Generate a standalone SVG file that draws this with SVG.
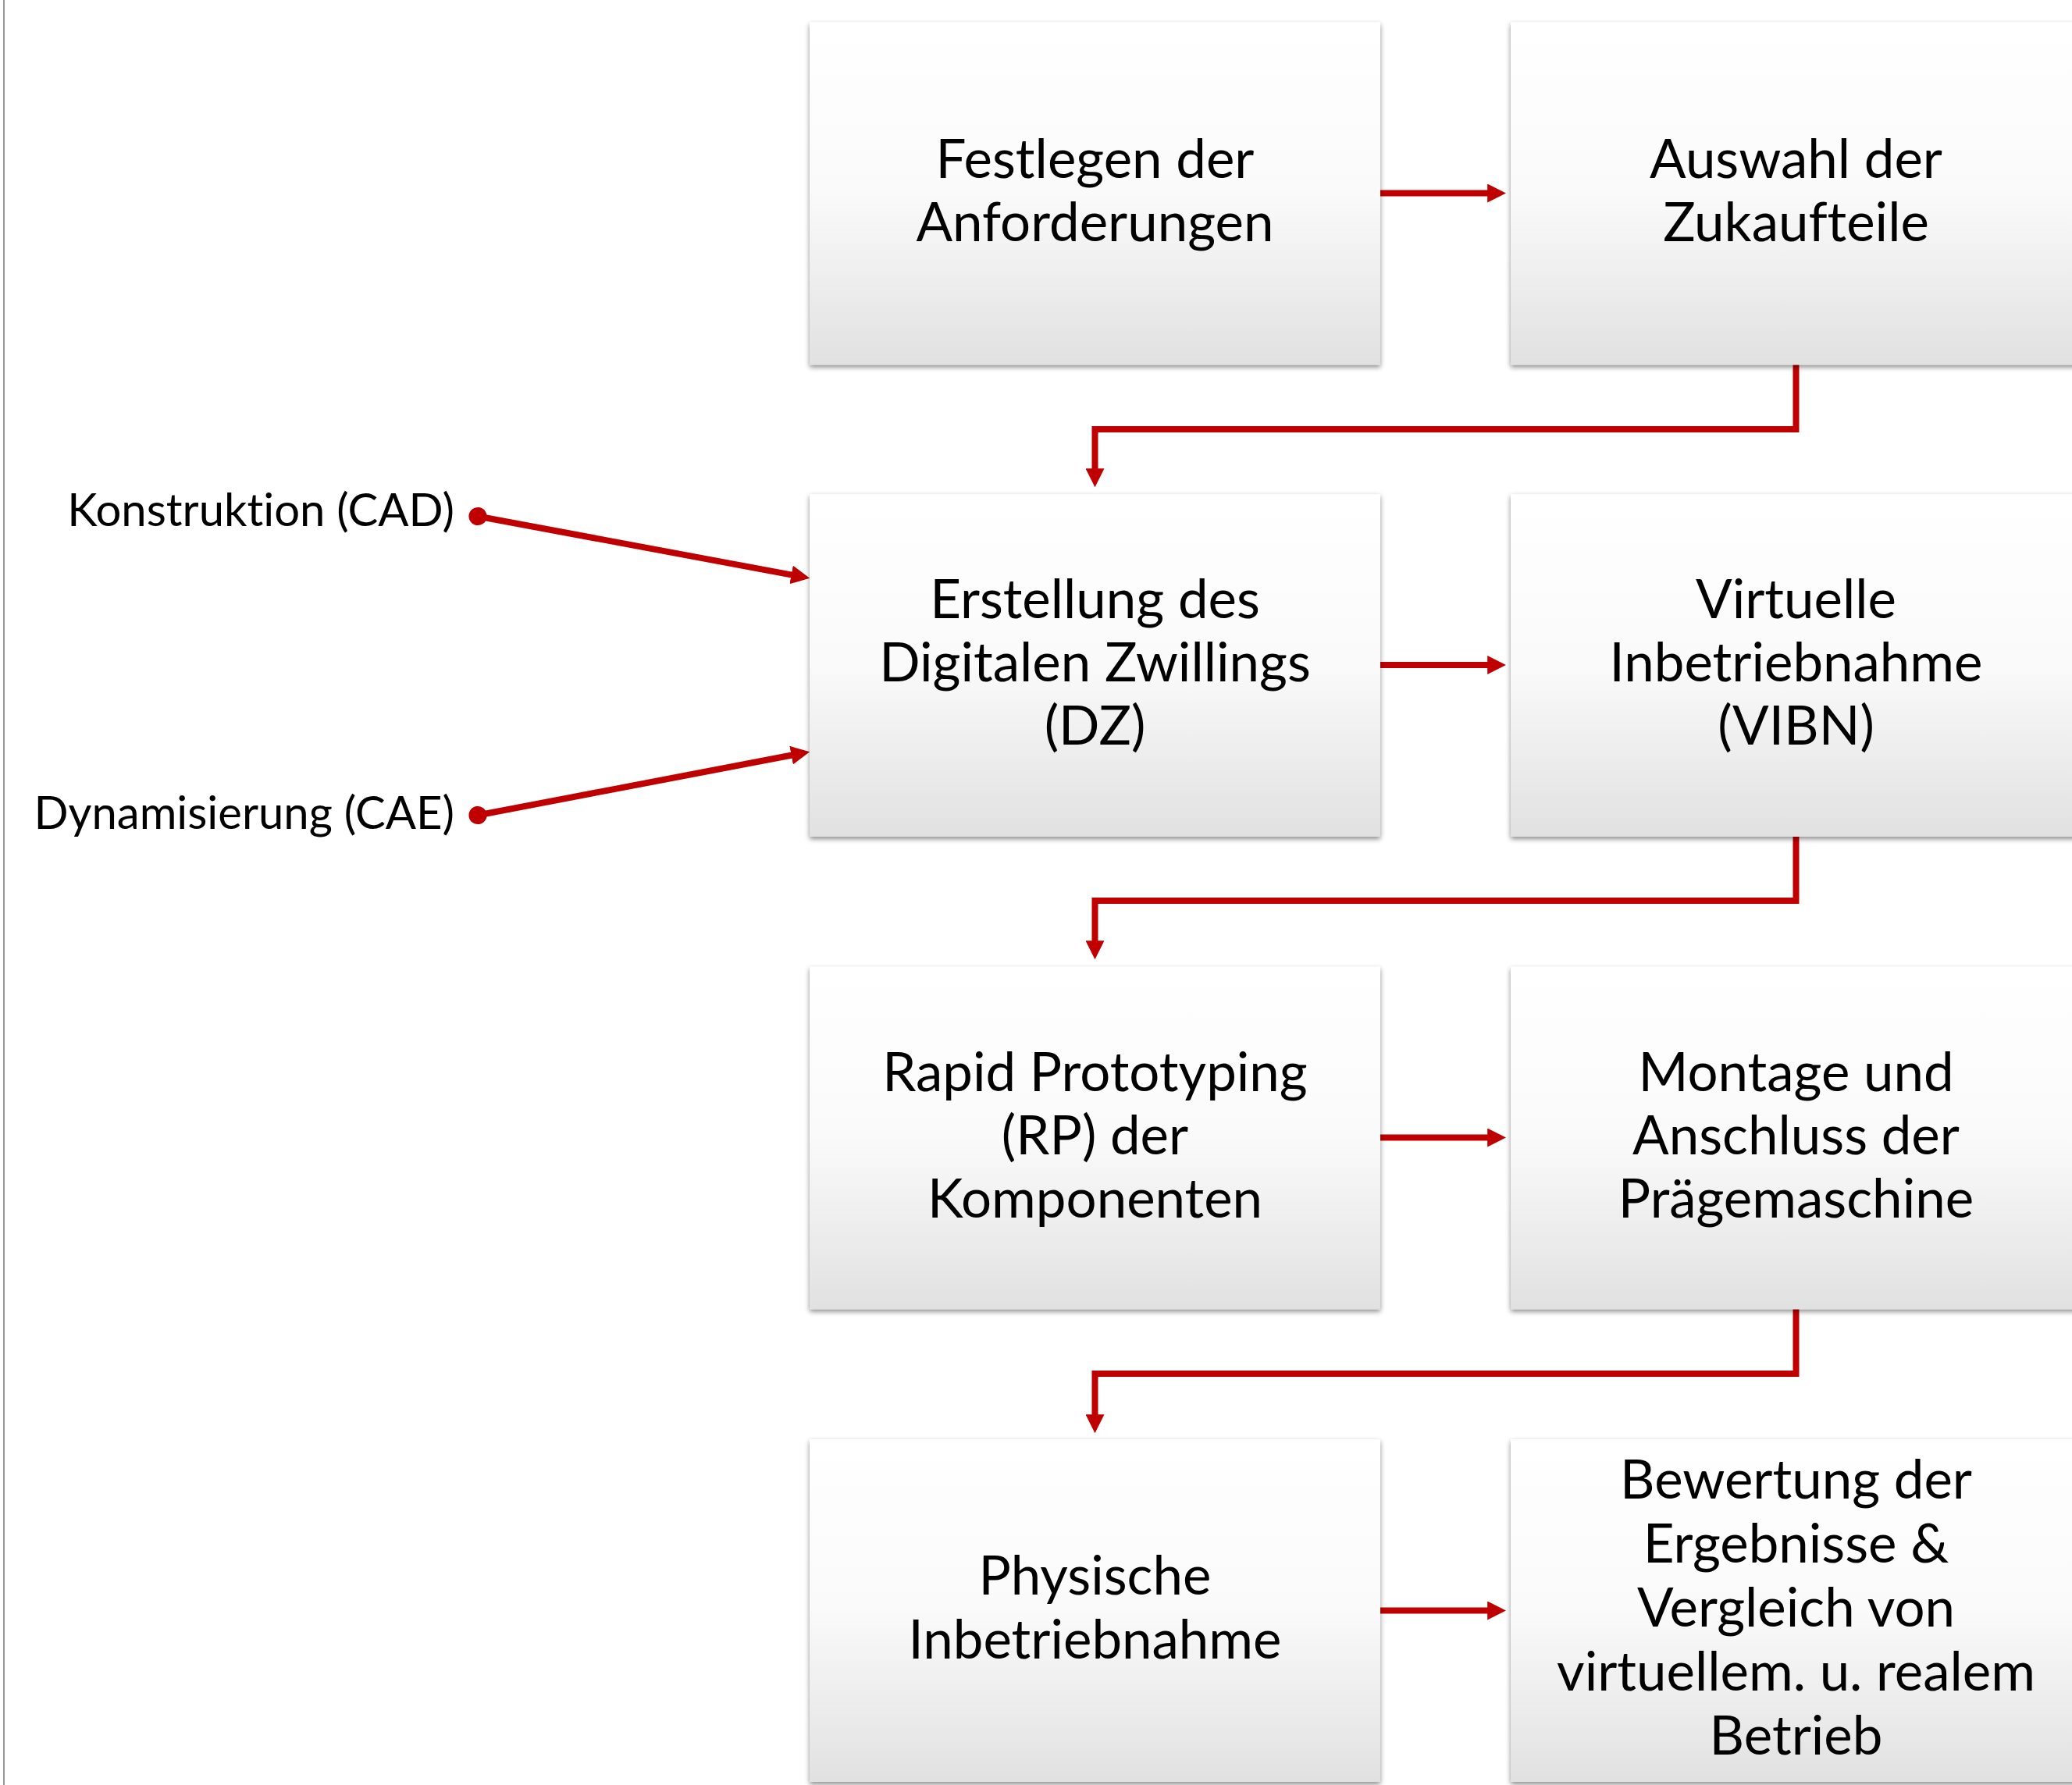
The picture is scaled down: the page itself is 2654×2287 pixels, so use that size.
<svg xmlns="http://www.w3.org/2000/svg" width="2654" height="2287" viewBox="0 0 2654 2287">
<style>
text{font-variant-ligatures:none;font-feature-settings:"liga" 0}
.box{fill:url(#g);filter:url(#sh)}
.t{font-family:Lato,"Noto Sans","Liberation Sans",sans-serif;font-size:69px;fill:#000;text-anchor:middle}
.lbl{font-family:Lato,"Noto Sans","Liberation Sans",sans-serif;font-size:58px;fill:#000;text-anchor:end}
.c{fill:none;stroke:#c00000;stroke-width:8;marker-end:url(#arr)}
.d{marker-start:url(#dot)}
</style>
<defs>
<linearGradient id="g" x1="0" y1="0" x2="0" y2="1">
<stop offset="0" stop-color="#ffffff"/>
<stop offset="0.5" stop-color="#fafafa"/>
<stop offset="1" stop-color="#e1e1e1"/>
</linearGradient>
<filter id="sh" x="-5%" y="-5%" width="110%" height="112%">
<feDropShadow dx="0" dy="3" stdDeviation="3" flood-color="#000" flood-opacity="0.45"/>
</filter>
<marker id="arr" viewBox="0 0 3 3" markerWidth="3" markerHeight="3" refX="0.1" refY="1.5" orient="auto" markerUnits="strokeWidth">
<path d="M0,0 L3,1.5 L0,3 z" fill="#c00000"/>
</marker>
<marker id="dot" viewBox="0 0 3 3" markerWidth="3" markerHeight="3" refX="1.5" refY="1.5" orient="auto" markerUnits="strokeWidth">
<circle cx="1.5" cy="1.5" r="1.45" fill="#c00000"/>
</marker>
</defs>
<rect width="2654" height="2287" fill="#fff"/>
<line x1="5" y1="0" x2="5" y2="2287" stroke="#999" stroke-width="2"/>

<g id="connectors">
<path class="c" d="M1768,247.5 H1906"/>
<path class="c" d="M1768,852 H1906"/>
<path class="c" d="M1768,1457.5 H1906"/>
<path class="c" d="M1768,2063.5 H1906"/>
<path class="c" d="M2300.5,467 V550 H1402.5 V601"/>
<path class="c" d="M2300.5,1071 V1154 H1402.5 V1206"/>
<path class="c" d="M2300.5,1677 V1760 H1402.5 V1813"/>
<path class="c d" d="M612,661.5 L1014.4,736.6"/>
<path class="c d" d="M612,1044.5 L1014.4,967.5"/>
</g>

<g id="lbl-cad"><text class="lbl" x="582" y="674">Konstruktion (CAD)</text></g>
<g id="lbl-cae"><text class="lbl" x="582" y="1062">Dynamisierung (CAE)</text></g>

<g id="n1"><rect class="box" x="1037" y="28.5" width="731" height="439"/>
<text class="t" x="1402.5" y="228">Festlegen der</text><text class="t" x="1402.5" y="309">Anforderungen</text></g>
<g id="n2"><rect class="box" x="1935" y="28.5" width="731" height="439"/>
<text class="t" x="2300.5" y="228">Auswahl der</text><text class="t" x="2300.5" y="309">Zukaufteile</text></g>
<g id="n3"><rect class="box" x="1037" y="633" width="731" height="439"/>
<text class="t" x="1402.5" y="792">Erstellung des</text><text class="t" x="1402.5" y="873">Digitalen Zwillings</text><text class="t" x="1402.5" y="954">(DZ)</text></g>
<g id="n4"><rect class="box" x="1935" y="633" width="731" height="439"/>
<text class="t" x="2300.5" y="792">Virtuelle</text><text class="t" x="2300.5" y="873">Inbetriebnahme</text><text class="t" x="2300.5" y="954">(VIBN)</text></g>
<g id="n5"><rect class="box" x="1037" y="1238.5" width="731" height="439"/>
<text class="t" x="1402.5" y="1397.5">Rapid Prototyping</text><text class="t" x="1402.5" y="1478.5">(RP) der</text><text class="t" x="1402.5" y="1559.5">Komponenten</text></g>
<g id="n6"><rect class="box" x="1935" y="1238.5" width="731" height="439"/>
<text class="t" x="2300.5" y="1397.5">Montage und</text><text class="t" x="2300.5" y="1478.5">Anschluss der</text><text class="t" x="2300.5" y="1559.5">Prägemaschine</text></g>
<g id="n7"><rect class="box" x="1037" y="1844" width="731" height="439"/>
<text class="t" x="1402.5" y="2043">Physische</text><text class="t" x="1402.5" y="2125">Inbetriebnahme</text></g>
<g id="n8"><rect class="box" x="1935" y="1844" width="731" height="439"/>
<text class="t" x="2300.5" y="1920">Bewertung der</text><text class="t" x="2300.5" y="2002">Ergebnisse &amp;</text><text class="t" x="2300.5" y="2084">Vergleich von</text><text class="t" x="2300.5" y="2166">virtuellem. u. realem</text><text class="t" x="2300.5" y="2248">Betrieb</text></g>
</svg>
